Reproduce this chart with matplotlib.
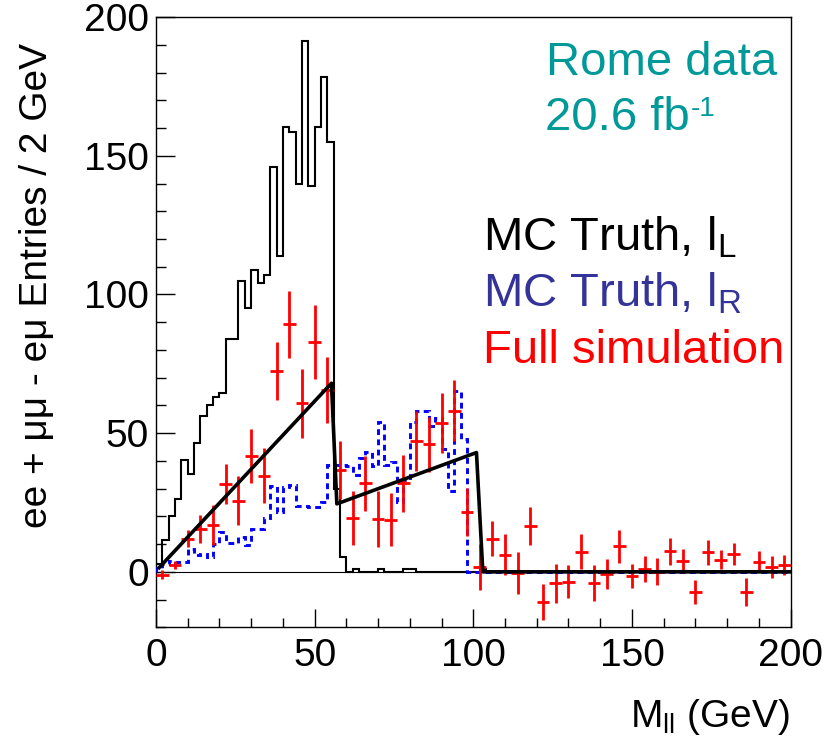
import numpy as np
import matplotlib
matplotlib.use("Agg")
import matplotlib.pyplot as plt
from matplotlib.ticker import MultipleLocator

plt.rcParams['font.family'] = ['Liberation Sans', 'DejaVu Sans']
plt.rcParams['mathtext.fontset'] = 'custom'
plt.rcParams['mathtext.rm'] = 'Liberation Sans'
plt.rcParams['mathtext.it'] = 'Liberation Sans:italic'

# 2 GeV bins, 0-200 GeV
edges = np.arange(0, 202, 2)

# MC truth, lL (black solid histogram)
mc_left = [3, 11.3, 20.3, 26.3, 40.3, 35.3, 46.3, 56.2, 60, 63,
           64.3, 84, 84, 105, 95, 109, 104, 107, 146, 114,
           160.5, 158.7, 140, 191.5, 139, 160.5, 178.5, 155, 30, 5.3,
           0, 1, 0, 0, 0, 1, 0, 0, 0, 1,
           1, 0, 0, 0, 0, 0, 0, 0, 0, 0,
           0, 1] + [0] * 48

# MC truth, lR (blue dotted histogram)
mc_right = [1.5, 3, 4, 3.5, 3.5, 8.3, 6, 6.5, 5.5, 10,
            14.3, 10.3, 10.3, 12.5, 9.5, 15.5, 15.5, 19.5, 31, 21.5,
            30.5, 31.3, 23.6, 23.6, 23.3, 23.3, 25.3, 38.5, 38.5, 38.5,
            38, 35, 41, 43.3, 38.2, 54, 38.5, 39.5, 25, 33,
            54, 58, 58, 52.6, 55.6, 44.2, 29.2, 65.2, 47.8] + [0] * 51

# full simulation (red points, 4 GeV bins)
sim_x = np.arange(2, 200, 4)
sim_y = [-1, 2.5, 11.9, 15.5, 16.9, 31.7, 25.7, 41.8, 34.7, 72.4,
         89.2, 60.7, 83, 65.5, 36.7, 19.4, 32, 19, 18.8, 31.9,
         47.2, 46, 53.6, 58, 21.5, 1.8, 12, 6.2, -0.4, 16.4,
         -10.9, -4.1, -3.5, 7.3, -4, -0.8, 9.2, -1.5, 1, 0.1,
         7.4, 3.8, -7.3, 7, 4.4, 6.5, -7.3, 3.7, 1.7, 2.3]
sim_err = [1.5, 1.5, 3, 5, 7.3, 7.2, 8.7, 9.7, 9.9, 10.6,
           12, 12.6, 13.3, 12, 10.6, 9.9, 9.9, 10.2, 9.5, 10.2,
           10.8, 10, 10.7, 11, 8.7, 8.3, 6.3, 7.5, 7.6, 6.9,
           6.6, 7, 5.8, 6.2, 6.6, 5.4, 5.9, 4.2, 4.7, 4.8,
           4.8, 4.3, 4.3, 4.5, 3.3, 3.9, 4.9, 3.8, 4, 3.6]

# edge fit (thick black line)
fit_x = [1, 55.3, 57, 101, 103, 200]
fit_y = [1.5, 68, 24.5, 43, 0, 0]

fig = plt.figure(figsize=(8.34, 7.45), dpi=100)
ax = fig.add_axes([0.187, 0.158, 0.761, 0.819])

ax.axhline(0, color='black', lw=0.8, zorder=1)
ax.stairs(mc_left, edges, baseline=0, color='black', lw=1.5, zorder=2)
ax.stairs(mc_right, edges, baseline=0, color='#0000ff', lw=2.1,
          linestyle=(0, (2, 1.5)), zorder=3)
ax.errorbar(sim_x, sim_y, xerr=2, yerr=sim_err, fmt='none',
            ecolor='#ff0000', elinewidth=2.0, capsize=0, zorder=4)
ax.plot(fit_x, fit_y, color='black', lw=2.6, zorder=5)

ax.set_xlim(0, 200)
ax.set_ylim(-20, 200)
ax.xaxis.set_major_locator(MultipleLocator(50))
ax.xaxis.set_minor_locator(MultipleLocator(10))
ax.yaxis.set_major_locator(MultipleLocator(50))
ax.yaxis.set_minor_locator(MultipleLocator(10))
ax.tick_params(which='both', direction='in', top=False, right=False,
               labelsize=28, width=1)
ax.tick_params(axis='y', which='major', length=13.5, pad=5)
ax.tick_params(axis='y', which='minor', length=7)
ax.tick_params(axis='x', which='major', length=13, pad=8)
ax.tick_params(axis='x', which='minor', length=6.5)
for s in ax.spines.values():
    s.set_linewidth(1)

fig.text(0.044, 0.617, "ee + \u03bc\u03bc - e\u03bc Entries / 2 GeV",
         rotation=90, ha='center', va='center', fontsize=28)
fig.text(0.947, 0.024, r"M$_{\rm ll}$ (GeV)", ha='right', va='baseline',
         fontsize=28)

ax.text(0.614, 0.905, "Rome data", transform=ax.transAxes,
        color='#009999', fontsize=34, va='baseline')
lumi = ax.text(0.613, 0.815, "20.6 fb", transform=ax.transAxes,
               color='#009999', fontsize=34, va='baseline')
# superscript -1 placed after the luminosity text
ax.annotate("-1", xy=(1, 0), xycoords=lumi, xytext=(1, 17.5),
            textcoords='offset points', color='#009999', fontsize=20,
            va='baseline', ha='left')
ax.text(0.515, 0.618, r"MC Truth, l$_{\rm L}$", transform=ax.transAxes,
        color='black', fontsize=34, va='baseline')
ax.text(0.515, 0.525, r"MC Truth, l$_{\rm R}$", transform=ax.transAxes,
        color='#333399', fontsize=34, va='baseline')
ax.text(0.515, 0.433, "Full simulation", transform=ax.transAxes,
        color='#ff0000', fontsize=34, va='baseline')

fig.savefig("out.png", dpi=100)
